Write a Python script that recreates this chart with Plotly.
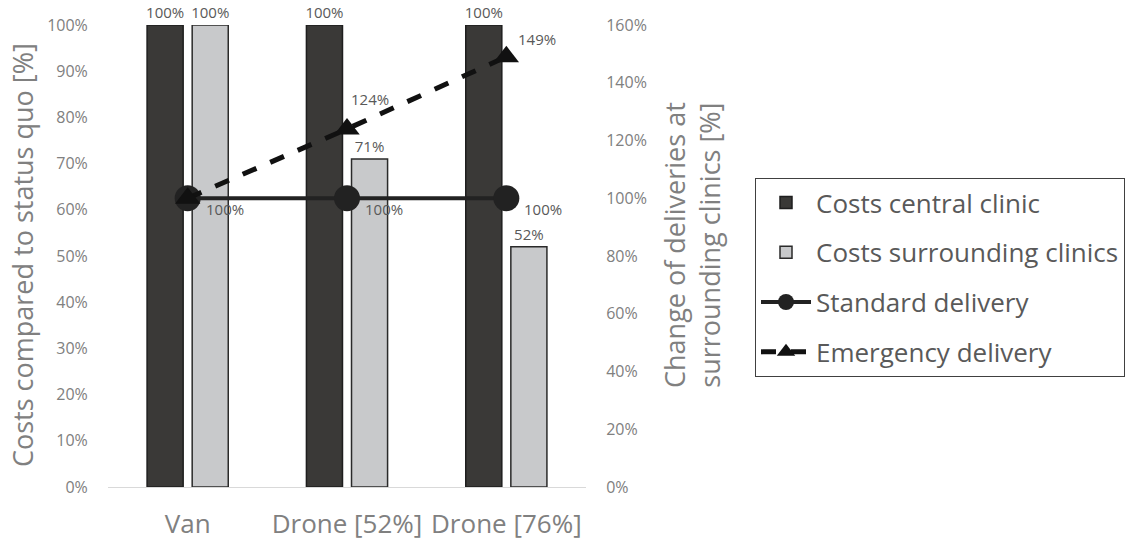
import plotly.graph_objects as go

# Scenario categories
categories = ["Van", "Drone [52%]", "Drone [76%]"]

# Cost shares relative to status quo (left axis, %)
costs_central = [100, 100, 100]
costs_surrounding = [100, 71, 52]

# Change of deliveries at surrounding clinics (right axis, %)
standard_delivery = [100, 100, 100]
emergency_delivery = [100, 124, 149]

left_ticks = list(range(0, 101, 10))
right_ticks = list(range(0, 161, 20))

FONT = "Open Sans"
LABEL_GRAY = "#595959"
AXIS_GRAY = "#808080"
LABEL_SIZE = 15

fig = go.Figure()

fig.add_trace(go.Bar(
    x=categories, y=costs_central, name="Costs central clinic",
    marker=dict(color="#3a3937", line=dict(color="#1e1e1e", width=1.5)),
    text=[f"{v}%" for v in costs_central], textposition="outside",
    textfont=dict(size=LABEL_SIZE, color=LABEL_GRAY, family=FONT),
    cliponaxis=False, constraintext="none", legendgroup="a",
))
fig.add_trace(go.Bar(
    x=categories, y=costs_surrounding, name="Costs surrounding clinics",
    marker=dict(color="#c8c9cb", line=dict(color="#2a2a2a", width=1.5)),
    text=[f"{v}%" for v in costs_surrounding], textposition="outside",
    textfont=dict(size=LABEL_SIZE, color=LABEL_GRAY, family=FONT),
    cliponaxis=False, constraintext="none", legendgroup="b",
))
fig.add_trace(go.Scatter(
    x=categories, y=standard_delivery, name="Standard delivery", yaxis="y2",
    mode="lines+markers",
    line=dict(color="#222222", width=4),
    marker=dict(symbol="circle", size=26, color="#222222"),
    cliponaxis=False, legendgroup="c",
))
fig.add_trace(go.Scatter(
    x=categories, y=emergency_delivery, name="Emergency delivery", yaxis="y2",
    mode="lines+markers",
    line=dict(color="#111111", width=5, dash="dash"),
    marker=dict(symbol="triangle-up", size=22, color="#111111"),
    cliponaxis=False, legendgroup="d",
))

# Value labels for the two delivery lines, offset from their markers
annotations = []
for cat, v in zip(categories, standard_delivery):
    annotations.append(dict(
        x=cat, y=v, xref="x", yref="y2", text=f"{v}%", showarrow=False,
        xanchor="left", yanchor="middle", xshift=16, yshift=-11,
        font=dict(size=LABEL_SIZE, color=LABEL_GRAY, family=FONT),
    ))
emergency_shifts = [None, (2, 30), (10, 18)]
for cat, v, shift in zip(categories, emergency_delivery, emergency_shifts):
    if shift is None:
        continue
    annotations.append(dict(
        x=cat, y=v, xref="x", yref="y2", text=f"{v}%", showarrow=False,
        xanchor="left", yanchor="middle", xshift=shift[0], yshift=shift[1],
        font=dict(size=LABEL_SIZE, color=LABEL_GRAY, family=FONT),
    ))

# Axis titles
annotations += [
    dict(
        text="Costs compared to status quo [%]", textangle=-90,
        xref="paper", yref="paper", x=(22 - 108) / 478, y=(487 - 255) / 462,
        xanchor="center", yanchor="middle", showarrow=False,
        font=dict(size=27, color=AXIS_GRAY, family=FONT),
    ),
    dict(
        text="Change of deliveries at<br>surrounding clinics [%]", textangle=-90,
        xref="paper", yref="paper", x=(692 - 108) / 478, y=(487 - 245) / 462,
        xanchor="center", yanchor="middle", showarrow=False,
        font=dict(size=27, color=AXIS_GRAY, family=FONT),
    ),
]

fig.update_layout(
    width=1139, height=544,
    margin=dict(l=108, r=553, t=25, b=57),
    paper_bgcolor="white", plot_bgcolor="white",
    font=dict(family=FONT, color=AXIS_GRAY),
    barmode="group", bargap=0.434, bargroupgap=0.2,
    xaxis=dict(
        automargin=False,
        showgrid=False, showline=True, linecolor="#d9d9d9", linewidth=1,
        ticks="outside", ticklen=14, tickcolor="rgba(0,0,0,0)",
        tickfont=dict(size=26, color=AXIS_GRAY, family=FONT),
    ),
    yaxis=dict(
        automargin=False,
        range=[0, 100], tickvals=left_ticks, ticktext=[f"{t}%" for t in left_ticks],
        showgrid=False, zeroline=False, showline=False,
        ticks="outside", ticklen=16, tickcolor="rgba(0,0,0,0)",
        tickfont=dict(size=16, color=AXIS_GRAY, family=FONT),
    ),
    yaxis2=dict(
        automargin=False,
        range=[0, 160], tickvals=right_ticks, ticktext=[f"{t}%" for t in right_ticks],
        overlaying="y", side="right",
        showgrid=False, zeroline=False, showline=False,
        ticks="outside", ticklen=16, tickcolor="rgba(0,0,0,0)",
        tickfont=dict(size=16, color=AXIS_GRAY, family=FONT),
    ),
    legend=dict(
        x=(755 - 108) / 478, y=(487 - 178) / 462, xanchor="left", yanchor="top",
        bordercolor="#404040", borderwidth=1, bgcolor="white",
        font=dict(size=26, color=LABEL_GRAY, family=FONT),
        tracegroupgap=13, traceorder="grouped", itemwidth=50,
    ),
    showlegend=True,
    annotations=annotations,
)

fig.write_html("out.html")
